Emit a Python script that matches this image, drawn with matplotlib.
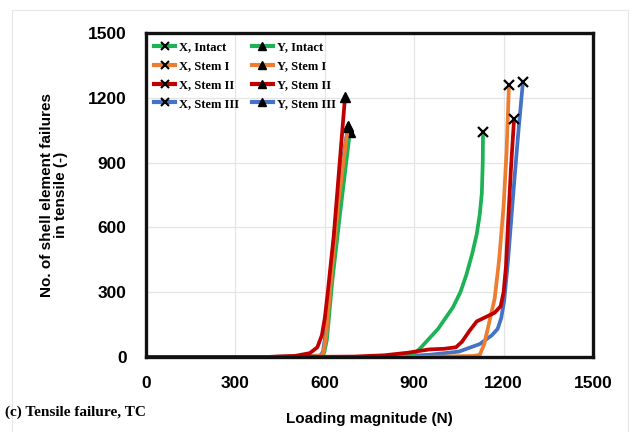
import matplotlib
matplotlib.use("Agg")
import matplotlib.pyplot as plt
from matplotlib.lines import Line2D
from matplotlib.patches import Rectangle

# ---- data ----
x_intact_x = [0, 700, 850, 900, 920, 950, 980, 1030, 1055, 1075, 1095, 1110, 1120, 1127, 1130, 1131]
x_intact_y = [0, 0, 5, 15, 40, 85, 130, 230, 300, 380, 480, 570, 660, 760, 900, 1040]

x_stem1_x = [0, 900, 1000, 1100, 1120, 1135, 1150, 1170, 1185, 1200, 1210, 1218]
x_stem1_y = [0, 0, 2, 5, 10, 60, 150, 270, 450, 700, 950, 1260]

x_stem2_x = [0, 500, 700, 800, 880, 950, 1000, 1040, 1060, 1085, 1110, 1140, 1170, 1190, 1200, 1208, 1215, 1225, 1235]
x_stem2_y = [0, 0, 2, 8, 20, 35, 38, 45, 70, 120, 165, 185, 205, 235, 300, 420, 620, 880, 1100]

x_stem3_x = [0, 700, 850, 950, 1050, 1120, 1160, 1180, 1192, 1202, 1215, 1235, 1250, 1265]
x_stem3_y = [0, 0, 3, 10, 25, 60, 100, 130, 180, 260, 450, 800, 1050, 1275]

y_intact_x = [0, 400, 550, 590, 598, 607, 625, 650, 670, 684]
y_intact_y = [0, 0, 3, 6, 20, 80, 350, 650, 880, 1040]

y_stem1_x = [0, 400, 550, 588, 595, 604, 622, 646, 665, 678]
y_stem1_y = [0, 0, 3, 6, 20, 90, 380, 720, 930, 1065]

y_stem2_x = [0, 400, 500, 550, 575, 590, 600, 610, 630, 650, 668]
y_stem2_y = [0, 0, 5, 18, 45, 100, 180, 300, 560, 900, 1205]

y_stem3_x = [0, 400, 550, 586, 594, 602, 620, 645, 665, 678]
y_stem3_y = [0, 0, 4, 7, 25, 100, 400, 750, 950, 1070]

x_ticks = [0, 300, 600, 900, 1200, 1500]
y_ticks = [0, 300, 600, 900, 1200, 1500]

GREEN = "#1db256"
ORANGE = "#ed7d31"
RED = "#c00000"
BLUE = "#4472c4"

fig = plt.figure(figsize=(6.32, 4.32), dpi=100)
ax = fig.add_axes([146/632, 1 - 357/432, (593-146)/632, (357-33)/432])

lw = 2.7
series = [
    (y_intact_x, y_intact_y, GREEN, "^"),
    (y_stem3_x, y_stem3_y, BLUE, "^"),
    (y_stem1_x, y_stem1_y, ORANGE, "^"),
    (x_stem3_x, x_stem3_y, BLUE, "x"),
    (x_intact_x, x_intact_y, GREEN, "x"),
    (x_stem1_x, x_stem1_y, ORANGE, "x"),
    (x_stem2_x, x_stem2_y, RED, "x"),
    (y_stem2_x, y_stem2_y, RED, "^"),
]
for xs, ys, c, m in series:
    ax.plot(xs, ys, color=c, lw=lw, solid_capstyle="round", solid_joinstyle="round")
    ax.plot(xs[-1:], ys[-1:], linestyle="none", marker=m, color="black",
            markersize=7, markeredgewidth=1.6 if m == "x" else 1)

ax.set_xlim(0, 1500)
ax.set_ylim(0, 1500)
ax.set_xticks(x_ticks)
ax.set_yticks(y_ticks)
ax.set_xticklabels([str(t) for t in x_ticks], fontfamily="Liberation Sans", fontweight="bold", fontsize=12.5)
ax.set_yticklabels([str(t) for t in y_ticks], fontfamily="Liberation Sans", fontweight="bold", fontsize=12.5)
ax.tick_params(length=0, pad=14)
ax.grid(True, color="#e4e4e4", lw=0.9)
ax.set_axisbelow(True)
for s in ax.spines.values():
    s.set_linewidth(2.4)
    s.set_color("#111111")

ax.set_xlabel("Loading magnitude (N)", fontfamily="Liberation Sans", fontweight="bold", fontsize=11, labelpad=15)
ax.set_ylabel("No. of shell element failures\nin tensile (-)", fontfamily="Liberation Sans",
              fontweight="bold", fontsize=11, labelpad=14, linespacing=1.0, multialignment="center")

# legend
handles = []
labels = []
legend_items = [
    ("X, Intact", GREEN, "x"), ("X, Stem I", ORANGE, "x"), ("X, Stem II", RED, "x"), ("X, Stem III", BLUE, "x"),
    ("Y, Intact", GREEN, "^"), ("Y, Stem I", ORANGE, "^"), ("Y, Stem II", RED, "^"), ("Y, Stem III", BLUE, "^"),
]
for lab, c, m in legend_items:
    handles.append(Line2D([0], [0], color=c, lw=3, marker=m, markersize=6,
                          markerfacecolor="black", markeredgecolor="black",
                          markeredgewidth=1.5 if m == "x" else 1))
    labels.append(lab)
ax.legend(handles, labels, ncol=2, loc="upper left", frameon=False,
          prop={"family": "Liberation Serif", "weight": "bold", "size": 9},
          handlelength=1.7, handletextpad=0.3, columnspacing=1.0, labelspacing=0.55,
          borderaxespad=0.25, bbox_to_anchor=(0.0, 1.0))

fig.text(5/632, 1 - 412/432, "(c) Tensile failure, TC", fontfamily="Liberation Serif",
         fontweight="bold", fontsize=11, va="center", ha="left")

fig.patches.append(Rectangle((12/632, -0.1), (628-12)/632, 1.1 - 10/432,
                             transform=fig.transFigure, fill=False, edgecolor="#e6e6e6", lw=0.8))

fig.savefig("out.png", dpi=100)
